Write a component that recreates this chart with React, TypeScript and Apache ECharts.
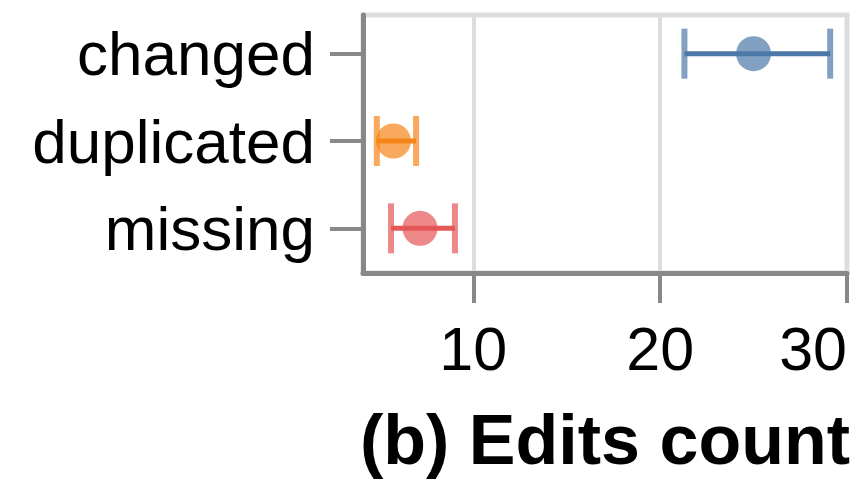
import React, { useEffect, useRef } from "react";
import * as echarts from "echarts";

const categories = ["changed", "duplicated", "missing"];
const means = [25.0, 5.73, 7.15];
const lows = [21.3, 4.84, 5.6];
const highs = [29.1, 6.94, 9.02];
const colors = ["#4c78a8", "#f58518", "#e45756"];
const xTicks = [10, 20, 30];
const xMin = 4.1;
const xMax = 30;
const axisTitle = "(b) Edits count";

const FONT = "'Liberation Sans', Arial, Helvetica, sans-serif";

export default function App() {
  const ref = useRef<HTMLDivElement>(null);
  useEffect(() => {
    if (!ref.current) return;
    const chart = echarts.init(ref.current, undefined, { renderer: "svg" });
    const option: any = {
      animation: false,
      backgroundColor: "#ffffff",
      grid: [
        {
          left: 363, right: 14, top: 15, bottom: 210,
          show: true, borderColor: "#dddddd", borderWidth: 5, backgroundColor: "transparent",
        },
        { left: 363, right: 14, top: 10, bottom: 211 },
      ],
      xAxis: [
        {
          gridIndex: 0, type: "value", min: xMin, max: xMax,
          axisLine: { show: true, lineStyle: { color: "#888888", width: 5 } },
          axisTick: { show: true, customValues: xTicks, length: 30, lineStyle: { color: "#888888", width: 4 } },
          axisLabel: {
            customValues: xTicks, fontSize: 61, color: "#000", fontFamily: FONT, margin: 45,
            alignMaxLabel: "right",
          },
          splitLine: { show: true, lineStyle: { color: "#dddddd", width: 4 } },
          name: axisTitle, nameLocation: "middle", nameGap: 132,
          nameTextStyle: { fontSize: 70, fontWeight: "bold", color: "#000", fontFamily: FONT },
        },
        { gridIndex: 1, type: "value", min: xMin, max: xMax, show: false },
      ],
      yAxis: [
        {
          gridIndex: 0, type: "value", min: 0, max: 1,
          axisLine: { show: true, lineStyle: { color: "#888888", width: 5 } },
          axisTick: { show: false }, axisLabel: { show: false }, splitLine: { show: false },
        },
        {
          gridIndex: 1, type: "category", data: categories, inverse: true,
          axisLine: { show: false },
          axisTick: { show: true, alignWithLabel: true, length: 33, lineStyle: { color: "#888888", width: 4 } },
          axisLabel: { fontSize: 62, color: "#000", fontFamily: FONT, margin: 48 },
          splitLine: { show: false },
        },
      ],
      series: [
        {
          type: "scatter", xAxisIndex: 1, yAxisIndex: 1, symbolSize: 35, z: 2,
          data: categories.map((c, i) => ({
            value: [means[i], i],
            itemStyle: { color: colors[i], opacity: 0.7 },
          })),
        },
        {
          type: "custom", xAxisIndex: 1, yAxisIndex: 1, z: 3,
          encode: { x: [0, 1], y: 2 },
          data: categories.map((c, i) => [lows[i], highs[i], i]),
          renderItem: (params: any, api: any) => {
            const idx = api.value(2);
            const p1 = api.coord([api.value(0), idx]);
            const p2 = api.coord([api.value(1), idx]);
            const col = colors[idx];
            const h = 25;
            return {
              type: "group",
              children: [
                { type: "line", shape: { x1: p1[0], y1: p1[1], x2: p2[0], y2: p2[1] }, style: { stroke: col, lineWidth: 5 } },
                { type: "line", shape: { x1: p1[0], y1: p1[1] - h, x2: p1[0], y2: p1[1] + h }, style: { stroke: col, lineWidth: 6, opacity: 0.7 } },
                { type: "line", shape: { x1: p2[0], y1: p2[1] - h, x2: p2[0], y2: p2[1] + h }, style: { stroke: col, lineWidth: 6, opacity: 0.7 } },
              ],
            };
          },
        },
      ],
    };
    chart.setOption(option);
    return () => chart.dispose();
  }, []);
  return <div ref={ref} style={{ position: "fixed", left: 0, top: 0, width: 861, height: 483 }} />;
}
